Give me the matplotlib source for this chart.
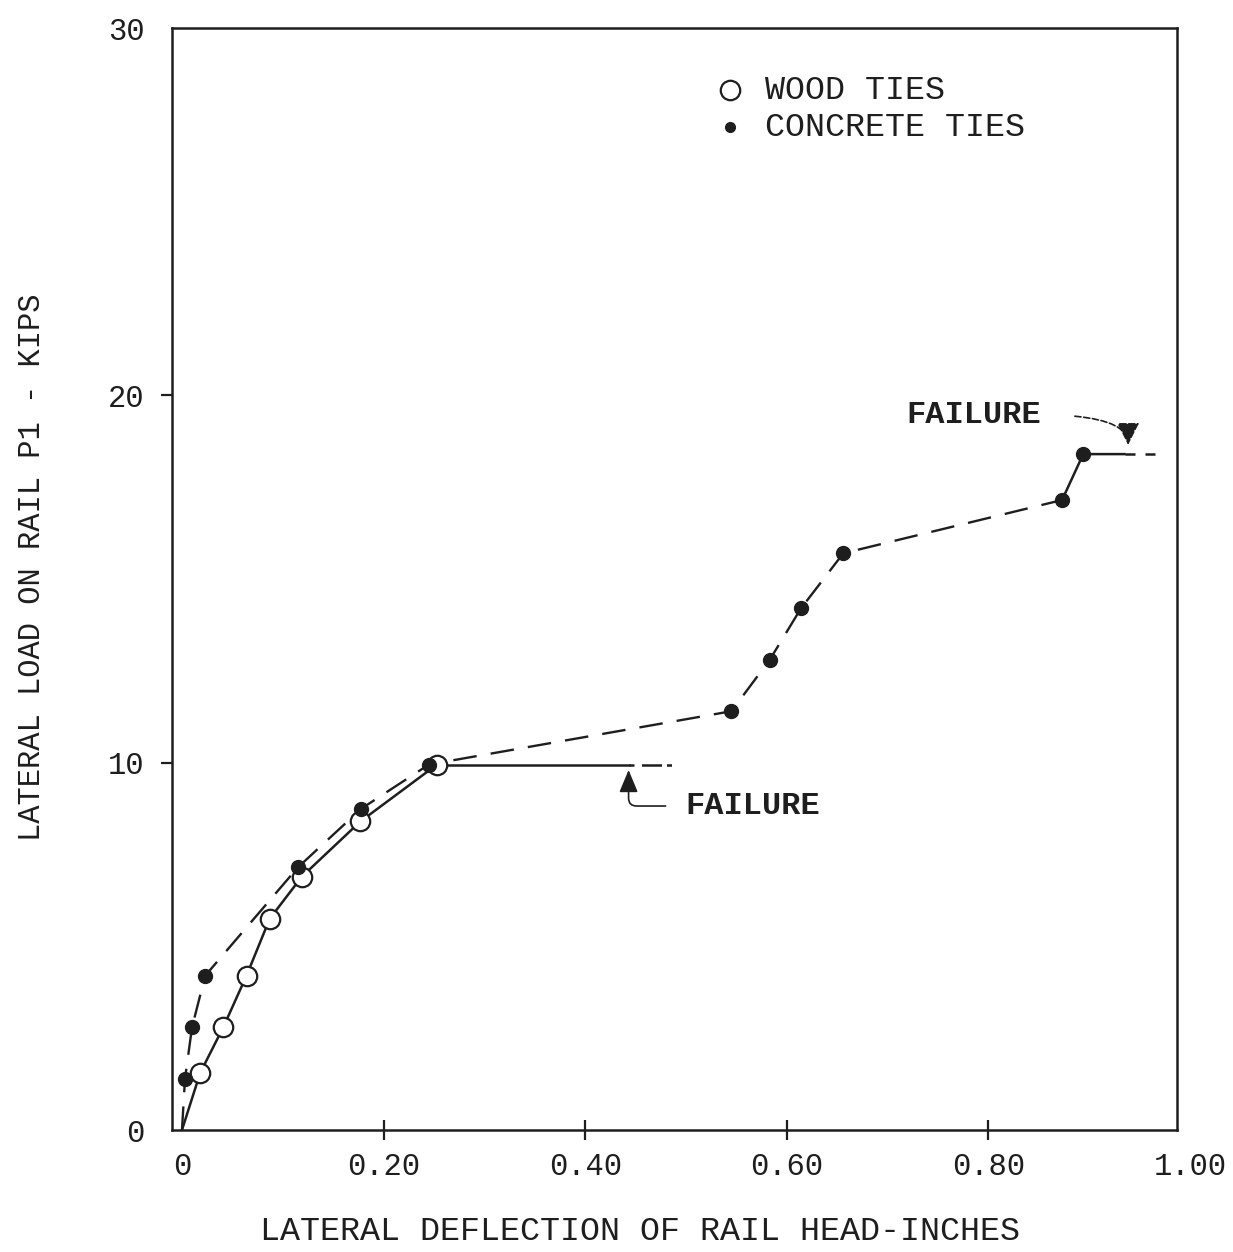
import matplotlib
matplotlib.use("Agg")
import matplotlib.pyplot as plt

# ---- data ----
wood_x = [0.0, 0.018, 0.041, 0.064, 0.087, 0.119, 0.177, 0.253]
wood_y = [0.0, 1.55, 2.8, 4.2, 5.75, 6.9, 8.4, 9.95]
wood_tail_x = [0.253, 0.443]
wood_tail_y = [9.95, 9.95]
wood_tail2_x = [0.443, 0.49]
wood_tail2_y = [9.95, 9.95]

conc_x = [0.0, 0.003, 0.010, 0.023, 0.115, 0.178, 0.245, 0.545, 0.583, 0.614, 0.656, 0.873]
conc_y = [0.0, 1.4, 2.8, 4.2, 7.15, 8.75, 9.95, 11.4, 12.8, 14.2, 15.7, 17.15]
conc_last_x = [0.873, 0.894, 0.935]
conc_last_y = [17.15, 18.4, 18.4]
conc_tail_x = [0.935, 0.968]
conc_tail_y = [18.4, 18.4]

xticks = [0.0, 0.2, 0.4, 0.6, 0.8]
xticklabels = ["0", "0.20", "0.40", "0.60", "0.80"]
yticks = [0, 10, 20, 30]
yticklabels = ["0", "10", "20", "30"]

FONT = ["Liberation Mono", "DejaVu Sans Mono"]
INK = "#1e1e1e"
FS_TICK = 22
FS_LAB = 24
FS_YLAB = 22
FS_LEG = 24
FS_FAIL = 23

plt.rcParams["font.family"] = FONT

fig = plt.figure(figsize=(12.33, 12.52), dpi=100)
ax = fig.add_axes([172 / 1233, 1 - 1130 / 1252, (1177 - 172) / 1233, (1130 - 28) / 1252])
ax.set_xlim(-0.0099, 0.987)
ax.set_ylim(0, 30)

for s in ax.spines.values():
    s.set_linewidth(1.8)
    s.set_color(INK)

# wood ties (open circles, solid line)
ax.plot(wood_x, wood_y, color=INK, lw=1.8, zorder=2)
ax.plot(wood_x[1:], wood_y[1:], linestyle="none", marker="o", ms=14,
        mfc="white", mec=INK, mew=1.6, zorder=4)
ax.plot(wood_tail_x, wood_tail_y, color=INK, lw=1.8, zorder=2)
ax.plot(wood_tail2_x, wood_tail2_y, color=INK, lw=1.8, linestyle=(0, (2, 3, 8, 2)), zorder=2)

# concrete ties (filled dots, dashed line)
ax.plot(conc_x, conc_y, color=INK, lw=1.7, linestyle=(0, (10, 6)), zorder=3)
ax.plot(conc_x[1:], conc_y[1:], linestyle="none", marker="o", ms=10,
        mfc=INK, mec=INK, zorder=5)
ax.plot(conc_last_x, conc_last_y, color=INK, lw=1.8, zorder=3)
ax.plot(conc_last_x[1:2], conc_last_y[1:2], linestyle="none", marker="o", ms=10,
        mfc=INK, mec=INK, zorder=5)
ax.plot(conc_tail_x, conc_tail_y, color=INK, lw=1.8, linestyle=(0, (4, 4)), zorder=3)

# ticks
ax.set_xticks(xticks)
ax.set_xticklabels(xticklabels)
ax.set_yticks(yticks)
ax.set_yticklabels(yticklabels)
ax.tick_params(axis="x", direction="inout", length=14, width=1.6, pad=9,
               labelsize=FS_TICK, colors=INK)
ax.tick_params(axis="y", direction="out", length=8, width=1.6, pad=12,
               labelsize=FS_TICK, colors=INK)
ax.xaxis.get_major_ticks()[0].tick1line.set_visible(False)
ax.yaxis.get_major_ticks()[0].tick1line.set_visible(False)
ax.yaxis.get_major_ticks()[-1].tick1line.set_visible(False)
ax.annotate("1.00", xy=(1.0, 0), xycoords=("data", "axes fraction"),
            xytext=(0, -16), textcoords="offset points", ha="center", va="top",
            fontsize=FS_TICK, color=INK, annotation_clip=False)

# axis labels
fig.text(640 / 1233, 1 - 1232 / 1252, "LATERAL DEFLECTION OF RAIL HEAD-INCHES",
         ha="center", va="center", fontsize=FS_LAB, color=INK)
fig.text(32 / 1233, 1 - 567 / 1252, "LATERAL LOAD ON RAIL P1 - KIPS",
         ha="center", va="center", rotation=90, fontsize=FS_YLAB, color=INK)

# legend (manual)
ax.plot([0.544], [28.3], linestyle="none", marker="o", ms=14, mfc="white", mec=INK, mew=1.6)
ax.plot([0.544], [27.3], linestyle="none", marker="o", ms=7, mfc=INK, mec=INK)
ax.text(0.578, 28.3, "WOOD TIES", ha="left", va="center", fontsize=FS_LEG, color=INK)
ax.text(0.578, 27.3, "CONCRETE TIES", ha="left", va="center", fontsize=FS_LEG, color=INK)

# failure annotations
ax.annotate("FAILURE", xy=(0.443, 9.8), xytext=(0.499, 8.82),
            ha="left", va="center", fontsize=FS_FAIL, fontweight="bold", color=INK,
            arrowprops=dict(arrowstyle="-|>,head_length=0.6,head_width=0.25", color=INK, lw=1.2,
                            relpos=(0, 0.5), shrinkA=12, shrinkB=0,
                            connectionstyle="angle,angleA=180,angleB=90,rad=8"))
ax.annotate("FAILURE", xy=(0.9385, 18.65), xytext=(0.719, 19.47),
            ha="left", va="center", fontsize=FS_FAIL, fontweight="bold", color=INK,
            arrowprops=dict(arrowstyle="-|>,head_length=0.6,head_width=0.3", color=INK, lw=1.2,
                            linestyle="--", relpos=(1, 0.5), shrinkA=22, shrinkB=0,
                            connectionstyle="angle3,angleA=0,angleB=90"))

fig.savefig("out.png", dpi=100, facecolor="white")
